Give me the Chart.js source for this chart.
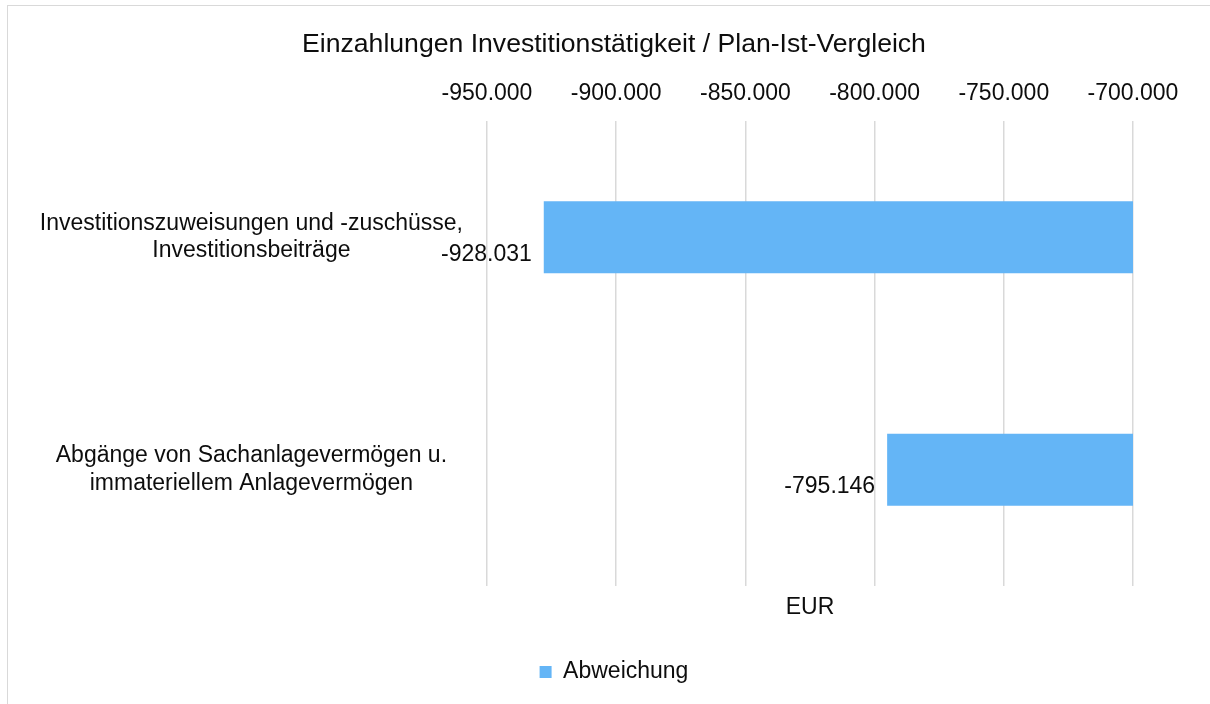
<!DOCTYPE html>
<html>
<head>
<meta charset="utf-8">
<script src="https://cdn.jsdelivr.net/npm/chart.js@4.4.1/dist/chart.umd.min.js"></script>
<style>
html,body{margin:0;padding:0;background:#fff;overflow:hidden}
#wrap{position:relative;width:1210px;height:704px}
</style>
</head>
<body>
<div id="wrap"><canvas id="c" width="1210" height="704"></canvas></div>
<script>
// ---- data ----
const categories = [
  ["Investitionszuweisungen und -zuschüsse,", "Investitionsbeiträge"],
  ["Abgänge von Sachanlagevermögen u.", "immateriellem Anlagevermögen"]
];
const seriesName = "Abweichung";
const seriesValues = [-928031, -795146];
const axisMin = -950000;
const axisMax = -700000;
const axisStep = 50000;
const chartTitle = "Einzahlungen Investitionstätigkeit / Plan-Ist-Vergleich";
const valueAxisTitle = "EUR";

// ---- styling ----
const FONT = "'Liberation Sans', Arial, sans-serif";
const TEXT = "#0d0d0d";
const BAR = "#64B5F6";
const GRID = "#d9d9d9";

function fmt(v) {
  const s = Math.abs(Math.round(v)).toString().replace(/\B(?=(\d{3})+(?!\d))/g, ".");
  return (v < 0 ? "-" : "") + s;
}

const frame = {
  id: "frame",
  beforeDraw(chart) {
    const ctx = chart.ctx;
    ctx.save();
    ctx.fillStyle = "#fff";
    ctx.fillRect(0, 0, chart.width, chart.height);
    ctx.strokeStyle = GRID;
    ctx.lineWidth = 1;
    ctx.strokeRect(7.5, 5.5, 1400, 900);
    ctx.restore();
  }
};

// let the category labels use the free space left of the axis box
const widenLabelArea = {
  id: "widenLabelArea",
  afterLayout(chart) {
    chart.scales.y.left = 10;
  }
};

const valueLabels = {
  id: "valueLabels",
  afterDatasetsDraw(chart) {
    const ctx = chart.ctx;
    const meta = chart.getDatasetMeta(0);
    const data = chart.data.datasets[0].data;
    ctx.save();
    ctx.font = "23px " + FONT;
    ctx.fillStyle = TEXT;
    ctx.textAlign = "right";
    ctx.textBaseline = "middle";
    meta.data.forEach((el, i) => {
      const left = Math.min(el.x, el.base);
      ctx.fillText(fmt(data[i]), left - 12, el.y + 17);
    });
    ctx.restore();
  }
};

new Chart(document.getElementById("c"), {
  type: "bar",
  data: {
    labels: categories,
    datasets: [{
      label: seriesName,
      data: seriesValues,
      backgroundColor: BAR,
      borderWidth: 0,
      barPercentage: 0.31,
      categoryPercentage: 1.0
    }]
  },
  options: {
    indexAxis: "y",
    responsive: false,
    animation: false,
    devicePixelRatio: 1,
    layout: { padding: { left: 95, right: 77, top: 0, bottom: 10.5 } },
    scales: {
      x: {
        type: "linear",
        position: "top",
        min: axisMin,
        max: axisMax,
        ticks: {
          stepSize: axisStep,
          padding: 14,
          color: TEXT,
          font: { family: FONT, size: 23 },
          callback: (v) => fmt(v)
        },
        grid: { color: GRID, lineWidth: 1.5, drawTicks: false },
        border: { display: false }
      },
      x2: {
        type: "linear",
        axis: "x",
        position: "bottom",
        min: axisMin,
        max: axisMax,
        ticks: { display: false },
        grid: { display: false },
        border: { display: false },
        title: {
          display: true,
          text: valueAxisTitle,
          color: TEXT,
          font: { family: FONT, size: 23 },
          padding: { top: 0, bottom: 29 }
        }
      },
      y: {
        type: "category",
        grid: { display: false },
        border: { display: false },
        ticks: {
          crossAlign: "center",
          padding: 16,
          color: TEXT,
          font: { family: FONT, size: 23 }
        },
        afterFit(scale) { scale.width = 392; }
      }
    },
    plugins: {
      title: {
        display: true,
        text: chartTitle,
        color: TEXT,
        font: { family: FONT, size: 26.6, weight: "normal" },
        padding: { top: 29, bottom: 4.5 }
      },
      legend: {
        position: "bottom",
        labels: {
          boxWidth: 12,
          boxHeight: 12,
          padding: 10,
          color: TEXT,
          font: { family: FONT, size: 23 }
        }
      },
      tooltip: { enabled: false }
    }
  },
  plugins: [frame, widenLabelArea, valueLabels]
});
</script>
</body>
</html>
